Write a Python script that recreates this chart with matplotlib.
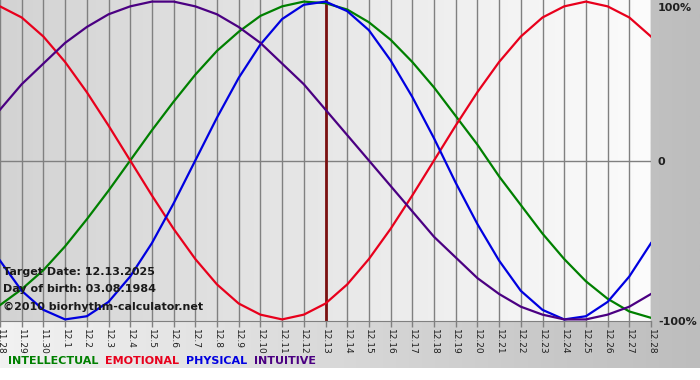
import matplotlib
matplotlib.use("Agg")
import matplotlib.pyplot as plt
import numpy as np
from matplotlib.colors import LinearSegmentedColormap

days = ['11.28', '11.29', '11.30', '12.1', '12.2', '12.3', '12.4', '12.5',
        '12.6', '12.7', '12.8', '12.9', '12.10', '12.11', '12.12', '12.13',
        '12.14', '12.15', '12.16', '12.17', '12.18', '12.19', '12.20',
        '12.21', '12.22', '12.23', '12.24', '12.25', '12.26', '12.27', '12.28']

physical = [-0.63, -0.82, -0.94, -1.00, -0.98, -0.89, -0.73, -0.52, -0.27,
            0.00, 0.27, 0.52, 0.73, 0.89, 0.98, 1.00, 0.94, 0.82, 0.63, 0.40,
            0.14, -0.14, -0.40, -0.63, -0.82, -0.94, -1.00, -0.98, -0.89,
            -0.73, -0.52]
emotional = [0.97, 0.90, 0.78, 0.62, 0.43, 0.22, 0.00, -0.22, -0.43, -0.62,
             -0.78, -0.90, -0.97, -1.00, -0.97, -0.90, -0.78, -0.62, -0.43,
             -0.22, 0.00, 0.22, 0.43, 0.62, 0.78, 0.90, 0.97, 1.00, 0.97,
             0.90, 0.78]
intellectual = [-0.91, -0.81, -0.69, -0.54, -0.37, -0.19, 0.00, 0.19, 0.37,
                0.54, 0.69, 0.81, 0.91, 0.97, 1.00, 0.99, 0.95, 0.87, 0.76,
                0.62, 0.46, 0.28, 0.10, -0.10, -0.28, -0.46, -0.62, -0.76,
                -0.87, -0.95, -0.99]
intuitive = [0.32, 0.48, 0.61, 0.74, 0.84, 0.92, 0.97, 1.00, 1.00, 0.97,
             0.92, 0.84, 0.74, 0.61, 0.48, 0.32, 0.16, 0.00, -0.16, -0.32,
             -0.48, -0.61, -0.74, -0.84, -0.92, -0.97, -1.00, -1.00, -0.97,
             -0.92, -0.84]

target_idx = 15  # 12.13
legend = [('INTELLECTUAL', '#008000'), ('EMOTIONAL', '#e8001c'),
          ('PHYSICAL', '#0000e0'), ('INTUITIVE', '#4b0082')]

fig = plt.figure(figsize=(7, 3.8), dpi=100)

# figure background gradient
bg = fig.add_axes([0, 0, 1, 1], zorder=-2)
bg_cmap = LinearSegmentedColormap.from_list('bg', ['#f2f2f2', '#bdbdbd'])
bg.imshow(np.linspace(0, 1, 256).reshape(1, -1), cmap=bg_cmap, aspect='auto',
          extent=[0, 1, 0.032, 1])
bg.set_xlim(0, 1)
bg.set_ylim(0, 1)
bg.axis('off')

ax = fig.add_axes([0, 59 / 380, 651 / 700, 321 / 380])
x = np.arange(len(days))
ax.set_xlim(0, len(days) - 1)
ax.set_ylim(-1.01, 1.01)

pa_cmap = LinearSegmentedColormap.from_list('pa', ['#d3d3d3', '#fcfcfc'])
ax.imshow(np.linspace(0, 1, 256).reshape(1, -1), cmap=pa_cmap, aspect='auto',
          extent=[0, len(days) - 1, -1.01, 1.01], zorder=0)

for xi in x:
    ax.axvline(xi, color='#808080', lw=1, zorder=1)
ax.axhline(0, color='#808080', lw=1, zorder=1)
ax.axvline(target_idx, color='#7a1010', lw=2, zorder=2)

ax.plot(x, intellectual, color='#008000', lw=1.6, zorder=3)
ax.plot(x, emotional, color='#e8001c', lw=1.6, zorder=3)
ax.plot(x, physical, color='#0000e0', lw=1.6, zorder=3)
ax.plot(x, intuitive, color='#4b0082', lw=1.6, zorder=3)

ax.set_xticks(x)
ax.set_xticklabels(days, rotation=270, fontsize=6.5, color='#202020')
ax.tick_params(axis='x', length=4, color='#808080', pad=2, width=1)
ax.set_yticks([])
for s in ['top', 'left', 'right']:
    ax.spines[s].set_visible(False)
ax.spines['bottom'].set_color('#808080')

# right side labels
for ypix, lab in [(8, '100%'), (162, '0'), (322, '-100%')]:
    fig.text(658 / 700, 1 - ypix / 380, lab, fontsize=8, fontweight='bold',
             va='center', ha='left', color='#202020')

# info text
info = ['Target Date: 12.13.2025', 'Day of birth: 03.08.1984',
        '\u00a92010 biorhythm-calculator.net']
for k, t in enumerate(info):
    fig.text(3 / 700, 1 - (272 + 17.5 * k) / 380, t, fontsize=8,
             fontweight='bold', va='center', ha='left', color='#1a1a1a')

# legend
xpos = 8
for name, col in legend:
    t = fig.text(xpos / 700, 1 - 361 / 380, name, fontsize=8,
                 fontweight='bold', color=col, va='center', ha='left')
    fig.canvas.draw()
    w = t.get_window_extent().width
    xpos += w + 7

fig.savefig('out.png', dpi=100)
